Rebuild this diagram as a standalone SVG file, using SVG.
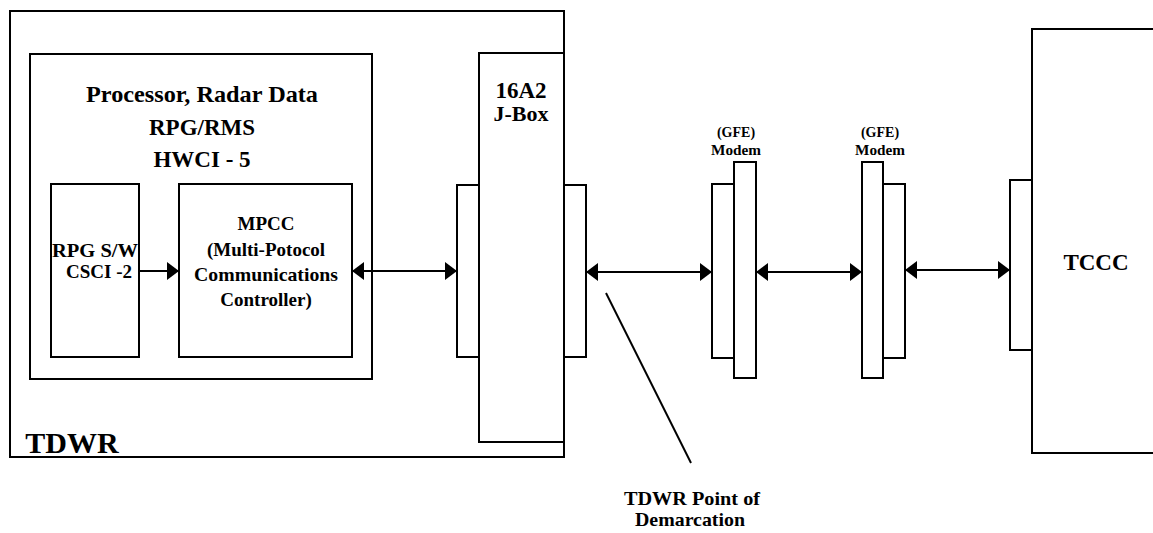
<svg xmlns="http://www.w3.org/2000/svg" width="1153" height="533" viewBox="0 0 1153 533">
<style>
.b{fill:#fff;stroke:#000;stroke-width:2}
.t{font-family:"Liberation Serif","Times New Roman","DejaVu Serif",serif;font-weight:bold;fill:#000;text-anchor:middle}
.c{stroke:#000;stroke-width:2;fill:none}
</style>
<defs>
<marker id="ah" markerUnits="userSpaceOnUse" markerWidth="13" markerHeight="20" refX="12" refY="9" orient="auto-start-reverse" viewBox="0 0 13 20">
<path d="M0,0 L12,9 L0,18 z" fill="#000"/>
</marker>
</defs>
<rect width="1153" height="533" fill="#fff"/>
<g id="tdwr">
<rect class="b" x="10" y="11" width="554" height="446"/>
<text class="t" x="72" y="453" font-size="30">TDWR</text>
</g>
<g id="processor">
<rect class="b" x="30" y="54" width="342" height="325"/>
<text class="t" x="202" y="102" font-size="23" textLength="232" lengthAdjust="spacingAndGlyphs">Processor, Radar Data</text>
<text class="t" x="202" y="135" font-size="23">RPG/RMS</text>
<text class="t" x="202" y="167" font-size="23">HWCI - 5</text>
</g>
<g id="rpgsw">
<rect class="b" x="51" y="184" width="88" height="173"/>
<text class="t" x="95" y="257" font-size="19" textLength="86" lengthAdjust="spacingAndGlyphs">RPG S/W</text>
<text class="t" x="99" y="278" font-size="19">CSCI -2</text>
</g>
<g id="mpcc">
<rect class="b" x="179" y="184" width="173" height="173"/>
<text class="t" x="266" y="230" font-size="19">MPCC</text>
<text class="t" x="266" y="256" font-size="19">(Multi-Potocol</text>
<text class="t" x="266" y="281" font-size="19" textLength="144" lengthAdjust="spacingAndGlyphs">Communications</text>
<text class="t" x="266" y="306" font-size="19">Controller)</text>
</g>
<g id="jbox">
<rect class="b" x="479" y="53" width="85" height="389"/>
<rect class="b" x="457" y="185" width="22" height="172"/>
<rect class="b" x="564" y="185" width="22" height="172"/>
<text class="t" x="521" y="98" font-size="23">16A2</text>
<text class="t" x="521" y="121" font-size="22">J-Box</text>
</g>
<g id="modem1">
<rect class="b" x="712" y="184" width="22" height="174"/>
<rect class="b" x="734" y="162" width="22" height="216"/>
<text class="t" x="736" y="137" font-size="14">(GFE)</text>
<text class="t" x="736" y="155" font-size="14" textLength="50" lengthAdjust="spacingAndGlyphs">Modem</text>
</g>
<g id="modem2">
<rect class="b" x="862" y="162" width="21" height="216"/>
<rect class="b" x="883" y="184" width="22" height="174"/>
<text class="t" x="880" y="137" font-size="14">(GFE)</text>
<text class="t" x="880" y="155" font-size="14" textLength="50" lengthAdjust="spacingAndGlyphs">Modem</text>
</g>
<g id="tccc">
<rect class="b" x="1032" y="29" width="130" height="424"/>
<rect class="b" x="1010" y="180" width="22" height="170"/>
<text class="t" x="1096" y="270" font-size="23">TCCC</text>
</g>
<g id="demarcation">
<text class="t" x="692" y="505" font-size="19" textLength="136" lengthAdjust="spacingAndGlyphs">TDWR Point of</text>
<text class="t" x="690" y="526" font-size="19" textLength="110" lengthAdjust="spacingAndGlyphs">Demarcation</text>
</g>
<g id="connectors">
<line class="c" x1="139" y1="271" x2="179" y2="271" marker-end="url(#ah)"/>
<line class="c" x1="352" y1="271" x2="457" y2="271" marker-start="url(#ah)" marker-end="url(#ah)"/>
<line class="c" x1="586" y1="272" x2="712" y2="272" marker-start="url(#ah)" marker-end="url(#ah)"/>
<line class="c" x1="756" y1="272" x2="862" y2="272" marker-start="url(#ah)" marker-end="url(#ah)"/>
<line class="c" x1="905" y1="270" x2="1010" y2="270" marker-start="url(#ah)" marker-end="url(#ah)"/>
<line class="c" x1="606" y1="293" x2="691" y2="463"/>
</g>
</svg>
